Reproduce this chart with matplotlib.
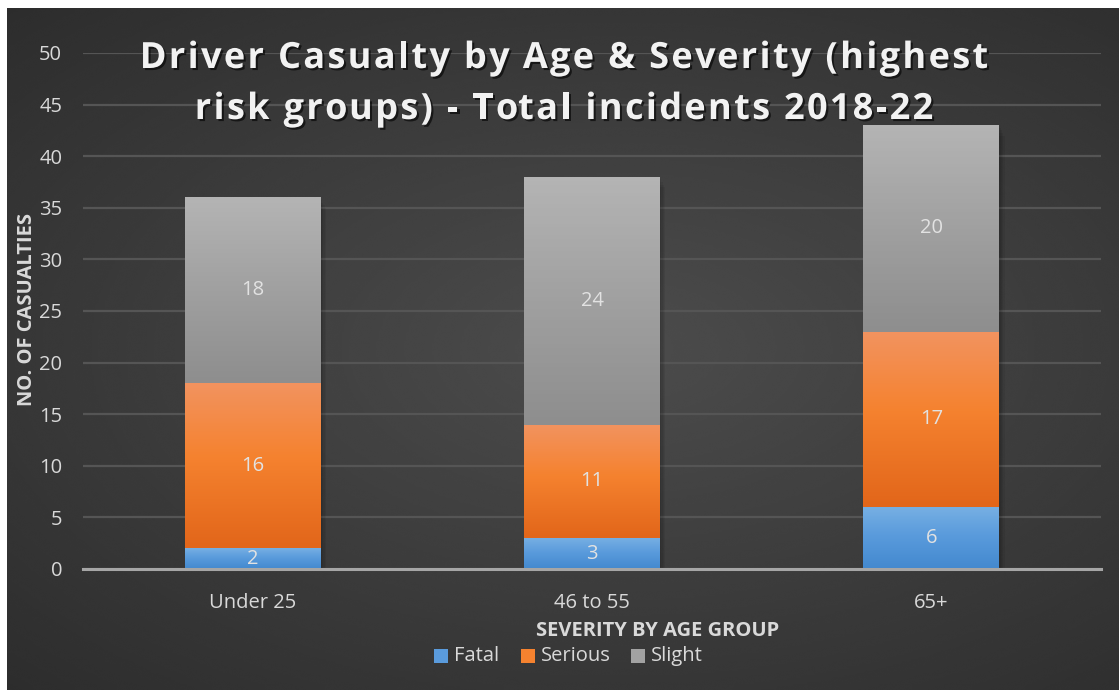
import numpy as np
import matplotlib
matplotlib.use("Agg")
import matplotlib.pyplot as plt
import matplotlib.patheffects as pe
from matplotlib.colors import LinearSegmentedColormap
from matplotlib.patches import Rectangle

age_groups = ["Under 25", "46 to 55", "65+"]
fatal = [2, 3, 6]
serious = [16, 11, 17]
slight = [18, 24, 20]
severity = ["Fatal", "Serious", "Slight"]
y_ticks = list(range(0, 51, 5))
title_lines = ["Driver Casualty by Age & Severity (highest",
               "risk groups) - Total incidents 2018-22"]

# bottom -> top colour stops for each severity fill
fills = {
    "Fatal": ["#4389cf", "#5a9bdc", "#76afe3"],
    "Serious": ["#e2661a", "#f5822f", "#f2935f"],
    "Slight": ["#8e8e8e", "#a2a2a2", "#b4b4b4"],
}

plt.rcParams["font.family"] = ["Open Sans", "DejaVu Sans"]
W, H = 1119, 690
fig = plt.figure(figsize=(W / 100, H / 100), dpi=100, facecolor="white")
renderer = fig.canvas.get_renderer()

# dark radial background of the chart area
bg = fig.add_axes([7 / W, 0, 1 - 7 / W, 1 - 8 / H], zorder=0)
yy, xx = np.mgrid[0:1:300j, 0:1:480j]
r = np.sqrt(((xx - 0.55) / 0.9) ** 2 + ((yy - 0.5) / 0.8) ** 2)
shade = np.clip(0.30 - 0.14 * r, 0.16, 0.30)
bg.imshow(shade, cmap="gray", vmin=0, vmax=1, aspect="auto",
          extent=[0, 1, 0, 1], interpolation="bicubic")
bg.set_axis_off()

ax = fig.add_axes([83 / W, 1 - 569 / H, (1101 - 83) / W, (569 - 53) / H], zorder=1)
ax.patch.set_alpha(0)
x = np.arange(len(age_groups))
width = 0.4
ax.set_xlim(-0.5, len(age_groups) - 0.5)
ax.set_ylim(0, 50)

bottoms = np.zeros(len(age_groups))
for name, vals in zip(severity, [fatal, serious, slight]):
    stops = fills[name]
    cmap = LinearSegmentedColormap.from_list(name, list(zip([0, 0.55, 1], stops)))
    bars = ax.bar(x, vals, width, bottom=bottoms, color=stops[0], zorder=3, linewidth=0)
    for bar, v, b in zip(bars, vals, bottoms):
        x0, w = bar.get_x(), bar.get_width()
        grad = np.linspace(0, 1, 64).reshape(-1, 1)
        im = ax.imshow(grad, cmap=cmap, origin="lower", aspect="auto",
                       extent=[x0, x0 + w, b, b + v], zorder=3.5)
        im.set_clip_path(bar)
        ax.text(x0 + w / 2, b + v / 2, str(v), ha="center", va="center",
                fontsize=14.5, color="#e2e2e2", zorder=5)
    bottoms = bottoms + np.array(vals)

# soft shadow behind each stack
for xi, total in zip(x, bottoms):
    for k in range(1, 5):
        off = 0.004 * k
        ax.add_patch(Rectangle((xi - width / 2 + off, -0.25 * k), width, total,
                               facecolor="black", alpha=0.06, zorder=2.5, linewidth=0))

ax.set_yticks(y_ticks)
ax.set_xticks(x)
ax.set_xticklabels(age_groups)
ax.tick_params(axis="both", length=0, colors="#d9d9d9", labelsize=14.5)
ax.tick_params(axis="x", pad=17)
ax.tick_params(axis="y", pad=15)
ax.grid(axis="y", color="#555555", linewidth=1.6, zorder=1)
for s in ["top", "right", "left"]:
    ax.spines[s].set_visible(False)
ax.spines["bottom"].set_color("#a6a6a6")
ax.spines["bottom"].set_linewidth(2.2)
ax.spines["bottom"].set_zorder(4)

fig.text(27 / W, 1 - 310 / H, "NO. OF CASUALTIES", rotation=90, ha="center", va="center",
         fontsize=14.5, fontweight="bold", color="#d9d9d9")
fig.text(658 / W, 1 - 631 / H, "SEVERITY BY AGE GROUP", ha="center", va="center",
         fontsize=14.5, fontweight="bold", color="#d9d9d9")


def text_width(s, **kw):
    t = fig.text(0, 0, s + "|", **kw)
    bar = fig.text(0, 0, "|", **kw)
    w = t.get_window_extent(renderer).width - bar.get_window_extent(renderer).width
    t.remove()
    bar.remove()
    return w


def tracked_text(cx, cy, s, tracking, **kw):
    """Draw s centred at pixel (cx, cy) with extra letter spacing in pixels."""
    total = text_width(s, **kw) + tracking * (len(s) - 1)
    left = cx - total / 2
    for i, ch in enumerate(s):
        if ch == " ":
            continue
        px = left + text_width(s[:i], **kw) + tracking * i
        fig.text(px / W, 1 - cy / H, ch, ha="left", va="center", **kw)


shadow = [pe.withSimplePatchShadow(offset=(1.5, -1.5), shadow_rgbFace="black", alpha=0.6)]
title_style = dict(fontsize=26, fontweight="bold", color="#f2f2f2", path_effects=shadow)
for line, cy in zip(title_lines, [59, 110]):
    tracked_text(564, cy, line, 2.3, **title_style)

# legend row
legend_x = [434, 521, 631]
for name, lx in zip(severity, legend_x):
    fig.patches.append(Rectangle((lx / W, 1 - 663 / H), 14 / W, 14 / H,
                                 transform=fig.transFigure, facecolor=fills[name][1],
                                 edgecolor="none", zorder=5))
    fig.text((lx + 20) / W, 1 - 656 / H, name, ha="left", va="center",
             fontsize=14.5, color="#d9d9d9")

fig.savefig("out.png", dpi=100, facecolor="white")
